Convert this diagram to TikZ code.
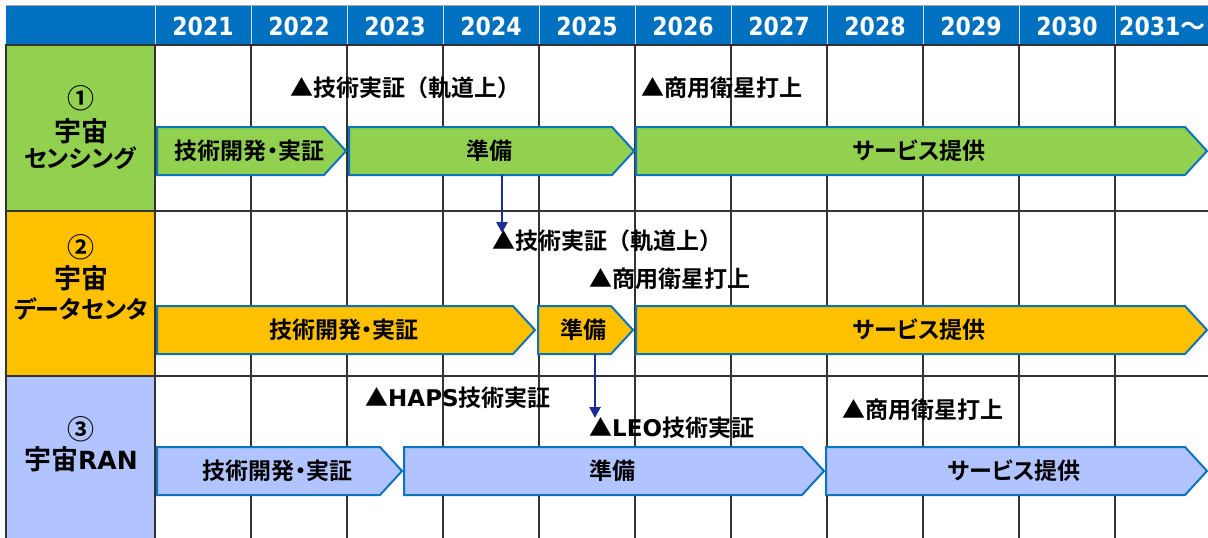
\documentclass[tikz,border=0pt]{standalone}
\usepackage{fontspec}
\setmainfont{Noto Sans CJK JP}[BoldFont={Noto Sans CJK JP Bold}]
\newfontfamily\jpp{Noto Sans CJK JP}[BoldFont={Noto Sans CJK JP Bold},RawFeature=+palt]
\newfontfamily\dv{DejaVu Sans}
\newfontfamily\dvn{DejaVu Sans}[FakeStretch=0.88]
\usetikzlibrary{arrows.meta}
\definecolor{hdrblue}{HTML}{0070C0}
\definecolor{barblue}{HTML}{0B72BE}
\definecolor{gfill}{HTML}{92D050}
\definecolor{ofill}{HTML}{FFC000}
\definecolor{bfill}{HTML}{B1C4FF}
\definecolor{navy}{HTML}{1B2E92}
\definecolor{gridc}{HTML}{333333}
\tikzset{
  hdr/.style={text=white, font=\dvn\bfseries\fontsize{25}{28}\selectfont, inner sep=0pt},
  bartext/.style={font=\jpp\bfseries\fontsize{23}{26}\selectfont, inner sep=0pt},
  note/.style={anchor=west, font=\bfseries\fontsize{23}{27}\selectfont, inner sep=0pt},
  lefttxt/.style={font=\jpp\bfseries\fontsize{27}{30}\selectfont, inner sep=0pt},
  leftkana/.style={font=\jpp\bfseries\fontsize{24}{27}\selectfont, inner sep=0pt},
  barline/.style={draw=barblue, line width=2pt, line join=miter},
  gridline/.style={draw=gridc, line width=1.2pt},
  hsep/.style={draw=white!80!hdrblue, line width=1pt},
  conn/.style={draw=navy, line width=2.6pt, -{Triangle[length=11pt,width=11pt]}},
}
\newcommand\tlbar[6]{%
  \draw[barline, fill=#5] ({#2},{#4-24}) -- ({#3-22},{#4-24}) -- ({#3},{#4}) -- ({#3-22},{#4+24}) -- ({#2},{#4+24}) -- cycle;
  \node[bartext] (#1) at ({(#2+#3)/2-2},{#4}) {#6};
}
\begin{document}
\begin{tikzpicture}[x=1pt,y=-1pt]
\useasboundingbox (0,0) rectangle (1208,538);
% header
\fill[hdrblue] (6,5) rectangle (1208,45);
\foreach \i in {0,...,10} \draw[hsep] ({155+96*\i},5) -- ({155+96*\i},45);
\foreach \y [count=\i from 0] in {2021,2022,2023,2024,2025,2026,2027,2028,2029,2030}
  \node[hdr] (y\y) at ({203+96*\i},26) {\y};
\node[hdr, anchor=west] (y2031) at (1119,26) {2031{\rmfamily\bfseries ～}};
% left column
\draw[gridline, fill=gfill] (6,45) rectangle (155,211);
\draw[gridline, fill=ofill] (6,211) rectangle (155,376);
\draw[gridline, fill=bfill] (6,376) rectangle (155,545);
% grid
\foreach \i in {1,...,10} \draw[gridline] ({155+96*\i},45) -- ({155+96*\i},545);
\draw[gridline] (6,45) -- (1208,45);
\draw[gridline] (6,211) -- (1208,211);
\draw[gridline] (6,376) -- (1208,376);
\draw[draw=gray!70, line width=1pt] (6,5) -- (1208,5);
% left labels
\node[lefttxt] (l1a) at (81,98) {①};
\node[lefttxt] (l1b) at (81,131) {宇宙};
\node[leftkana] (l1c) at (80,158) {センシング};
\node[lefttxt] (l2a) at (81,247) {②};
\node[lefttxt] (l2b) at (81,278) {宇宙};
\node[leftkana] (l2c) at (81,309) {データセンタ};
\node[lefttxt] (l3a) at (81,429) {③};
\node[lefttxt] (l3b) at (81,459) {宇宙{\dv\fontsize{25}{28}\selectfont RAN}};
% row 1 bars
\tlbar{r1b1}{157}{346}{151}{gfill}{技術開発・実証}
\tlbar{r1b2}{349}{634}{151}{gfill}{準備}
\tlbar{r1b3}{636}{1207}{151}{gfill}{サービス提供}
% row 2 bars
\tlbar{r2b1}{157}{535}{330}{ofill}{技術開発・実証}
\tlbar{r2b2}{538}{633}{330}{ofill}{準備}
\tlbar{r2b3}{636}{1207}{330}{ofill}{サービス提供}
% row 3 bars
\tlbar{r3b1}{157}{402}{471}{bfill}{技術開発・実証}
\tlbar{r3b2}{404}{824}{471}{bfill}{準備}
\tlbar{r3b3}{826}{1207}{471}{bfill}{サービス提供}
% notes
\node[note] (n11) at (290,88) {▲技術実証（軌道上）};
\node[note] (n12) at (641,88) {▲商用衛星打上};
\node[note] (n21) at (492,241) {▲技術実証（軌道上）};
\node[note] (n22) at (589,279) {▲商用衛星打上};
\node[note] (n31) at (365,398) {▲{\dv\bfseries HAPS}技術実証};
\node[note] (n32) at (589,428) {▲{\dv\bfseries LEO}技術実証};
\node[note] (n33) at (842,410) {▲商用衛星打上};
% connectors
\coordinate (a1s) at (502,175);
\coordinate (a1e) at (502,233);
\coordinate (a2s) at (595,354);
\coordinate (a2e) at (595,418);
\draw[conn] (a1s) -- (a1e);
\draw[conn] (a2s) -- (a2e);
\end{tikzpicture}
\end{document}
